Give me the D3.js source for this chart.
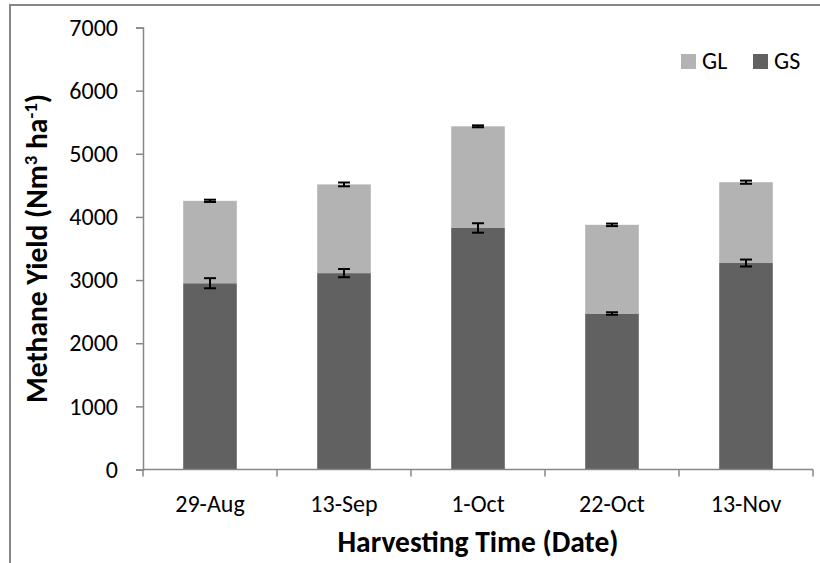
<!DOCTYPE html>
<html>
<head>
<meta charset="utf-8">
<script src="https://cdn.jsdelivr.net/npm/d3@7"></script>
<style>
  html, body { margin: 0; padding: 0; background: #fff; }
  svg { display: block; font-family: Carlito, Calibri, Lato, "Liberation Sans", sans-serif; }
</style>
</head>
<body>
<svg id="chart" width="820" height="563"></svg>
<script>
// Harvest dates
const categories = ["29-Aug", "13-Sep", "1-Oct", "22-Oct", "13-Nov"];
// Methane yield from stems (GS) and leaves (GL), Nm3/ha
const gsValues = [2950, 3110, 3825, 2470, 3270];
const glValues = [1305, 1405, 1610, 1405, 1280];
// Standard errors for the GS segment and for the stacked total
const gsErrors = [80, 65, 75, 20, 55];
const totalErrors = [18, 30, 15, 20, 25];
// Axis ticks
const yTicks = [0, 1000, 2000, 3000, 4000, 5000, 6000, 7000];
const seriesNames = ["GL", "GS"];
const seriesColors = { GL: "#b3b3b3", GS: "#616161" };

const FONT_TICK = 24;
const FONT_TITLE = 29.5;
const AXIS_GREY = "#878787";

const svg = d3.select("#chart");
const plot = { left: 143, right: 813, top: 27.5, bottom: 469.5 };

// Chart-area frame (only its top and left edges fall inside the view)
svg.append("rect")
  .attr("x", 10).attr("y", 5)
  .attr("width", 900).attr("height", 700)
  .attr("fill", "none").attr("stroke", AXIS_GREY).attr("stroke-width", 2);

const x = d3.scaleBand().domain(categories)
  .range([plot.left, plot.right]).paddingInner(0.6).paddingOuter(0.3);
const xOuter = d3.scaleBand().domain(categories).range([plot.left, plot.right]);
const y = d3.scaleLinear().domain([0, 7000]).range([plot.bottom, plot.top]);

// Stacked bars: GS at the base, GL on top
const rows = categories.map((c, i) => ({ cat: c, GS: gsValues[i], GL: glValues[i] }));
const stack = d3.stack().keys(["GS", "GL"])(rows);

svg.append("g").selectAll("g").data(stack).join("g")
  .attr("fill", d => seriesColors[d.key])
  .selectAll("rect").data(d => d).join("rect")
  .attr("x", d => x(d.data.cat))
  .attr("y", d => y(d[1]))
  .attr("width", x.bandwidth())
  .attr("height", d => y(d[0]) - y(d[1]));

// Error bars
const errData = [];
categories.forEach((c, i) => {
  errData.push({ cat: c, v: gsValues[i], e: gsErrors[i] });
  errData.push({ cat: c, v: gsValues[i] + glValues[i], e: totalErrors[i] });
});
const eg = svg.append("g").attr("stroke", "#000").attr("stroke-width", 2);
errData.forEach(d => {
  const cx = x(d.cat) + x.bandwidth() / 2;
  const cap = 6;
  eg.append("line").attr("x1", cx).attr("x2", cx).attr("y1", y(d.v + d.e)).attr("y2", y(d.v - d.e));
  eg.append("line").attr("x1", cx - cap).attr("x2", cx + cap).attr("y1", y(d.v + d.e)).attr("y2", y(d.v + d.e));
  eg.append("line").attr("x1", cx - cap).attr("x2", cx + cap).attr("y1", y(d.v - d.e)).attr("y2", y(d.v - d.e));
});

// Y axis
const yAxis = svg.append("g").attr("transform", `translate(${plot.left},0)`)
  .call(d3.axisLeft(y).tickValues(yTicks).tickSize(7).tickPadding(18).tickFormat(d3.format("d")));
yAxis.select(".domain").attr("stroke", AXIS_GREY).attr("stroke-width", 1.5);
yAxis.selectAll(".tick line").attr("stroke", AXIS_GREY).attr("stroke-width", 1.5);
yAxis.selectAll(".tick text").attr("font-size", FONT_TICK).attr("fill", "#000")
  .attr("font-family", "Carlito, Calibri, Lato, sans-serif");

// X axis with tick marks at category boundaries
const xAxisG = svg.append("g").attr("transform", `translate(0,${plot.bottom})`);
xAxisG.append("line").attr("x1", plot.left).attr("x2", plot.right)
  .attr("stroke", AXIS_GREY).attr("stroke-width", 1.5);
const bounds = categories.map(c => xOuter(c)).concat([plot.right]);
xAxisG.selectAll("line.tk").data(bounds).join("line").attr("class", "tk")
  .attr("x1", d => d).attr("x2", d => d).attr("y1", 0).attr("y2", 7)
  .attr("stroke", AXIS_GREY).attr("stroke-width", 1.5);
xAxisG.selectAll("text").data(categories).join("text")
  .attr("x", d => xOuter(d) + xOuter.bandwidth() / 2)
  .attr("y", 42.5).attr("text-anchor", "middle")
  .attr("font-size", FONT_TICK).attr("fill", "#000").text(d => d);

// Axis titles
svg.append("text")
  .attr("x", (plot.left + plot.right) / 2).attr("y", 552)
  .attr("text-anchor", "middle").attr("font-size", FONT_TITLE).attr("font-weight", "bold")
  .text("Harvesting Time (Date)");

const yt = svg.append("text")
  .attr("transform", `translate(47,${(plot.top + plot.bottom) / 2}) rotate(-90)`)
  .attr("text-anchor", "middle").attr("font-size", FONT_TITLE).attr("font-weight", "bold");
yt.append("tspan").text("Methane Yield (Nm");
yt.append("tspan").attr("font-size", 19).attr("dy", -10).text("3");
yt.append("tspan").attr("dy", 10).text(" ha");
yt.append("tspan").attr("font-size", 19).attr("dy", -10).text("-1");
yt.append("tspan").attr("dy", 10).text(")");

// Legend
const legend = svg.append("g").attr("transform", "translate(681,54)");
seriesNames.forEach((name, i) => {
  const g = legend.append("g").attr("transform", `translate(${i * 72},0)`);
  g.append("rect").attr("width", 15).attr("height", 15).attr("fill", seriesColors[name]);
  g.append("text").attr("x", 21).attr("y", 15).attr("font-size", FONT_TICK).text(name);
});
</script>
</body>
</html>
